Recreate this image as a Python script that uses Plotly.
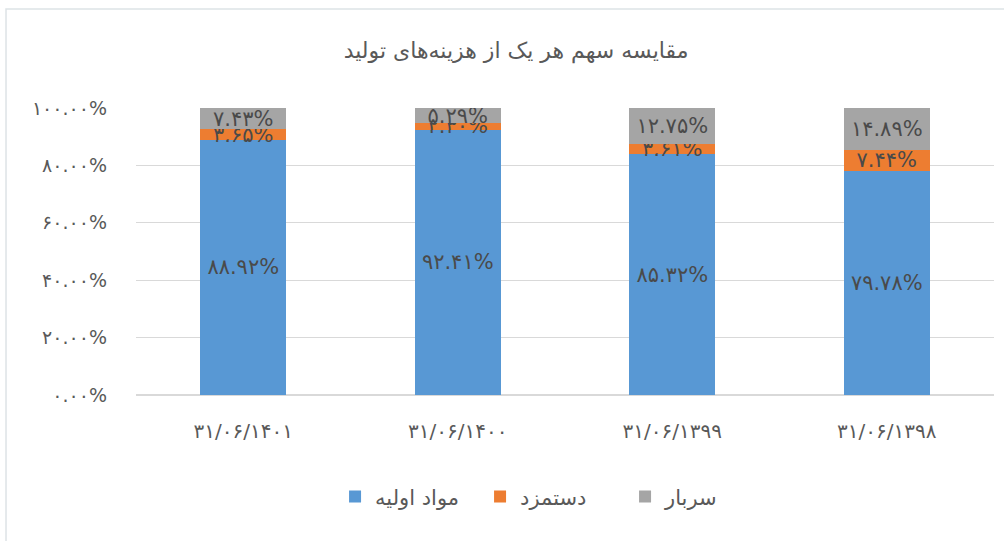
import plotly.graph_objects as go

categories = ["۳۱/۰۶/۱۴۰۱", "۳۱/۰۶/۱۴۰۰", "۳۱/۰۶/۱۳۹۹", "۳۱/۰۶/۱۳۹۸"]
raw_material = [88.92, 92.41, 85.32, 79.78]
wages = [3.65, 2.30, 3.61, 7.44]
overhead = [7.43, 5.29, 12.75, 14.89]
series_names = ["مواد اولیه", "دستمزد", "سربار"]
series_colors = ["#5898D4", "#ED7D31", "#A5A5A5"]
y_ticks = [0, 20, 40, 60, 80, 100]
title_text = "مقایسه سهم هر یک از هزینه‌های تولید"

FA = str.maketrans("0123456789", "۰۱۲۳۴۵۶۷۸۹")


def fa(v):
    return f"{v:.2f}%".translate(FA)


FONT = "DejaVu Sans"
fig = go.Figure()
for name, vals, col in zip(series_names, [raw_material, wages, overhead], series_colors):
    fig.add_trace(go.Bar(
        x=categories, y=vals, name=name,
        marker=dict(color=col, line=dict(width=0)),
        text=[fa(v) for v in vals],
        textposition="inside", insidetextanchor="middle",
        textfont=dict(family=FONT, size=21, color="#4A4A4A"),
        constraintext="none", width=0.4,
    ))

fig.update_layout(
    barmode="stack", barnorm="percent",
    width=1004, height=541,
    margin=dict(l=136, r=10, t=108, b=146),
    paper_bgcolor="white", plot_bgcolor="white",
    uniformtext=dict(minsize=21, mode="show"),
    title=dict(text=title_text, x=0.514, xanchor="center", y=0.907, yanchor="middle",
               font=dict(family=FONT, size=22, color="#595959")),
    showlegend=True,
    legend=dict(orientation="h", x=0.232, xanchor="left", y=-0.355, yanchor="middle",
                font=dict(family=FONT, size=21, color="#595959"), traceorder="normal",
                itemwidth=30, entrywidth=100),
    xaxis=dict(tickfont=dict(family=FONT, size=20, color="#595959"), showgrid=False,
               showline=False, ticks="", ticklabelstandoff=22),
    yaxis=dict(range=[0, 100], tickvals=y_ticks, ticktext=[fa(v) for v in y_ticks],
               tickfont=dict(family=FONT, size=19, color="#595959"),
               gridcolor="#D9D9D9", gridwidth=1, zeroline=True, zerolinecolor="#D9D9D9",
               showline=False, ticks="", ticklabelstandoff=28),
    shapes=[dict(type="rect", xref="paper", yref="paper", x0=-0.1515, x1=1.2, y0=-1.0, y1=1.345,
                 line=dict(color="#DDE3E6", width=1.5), fillcolor="rgba(0,0,0,0)", layer="below")],
)

fig.write_html("out.html")
